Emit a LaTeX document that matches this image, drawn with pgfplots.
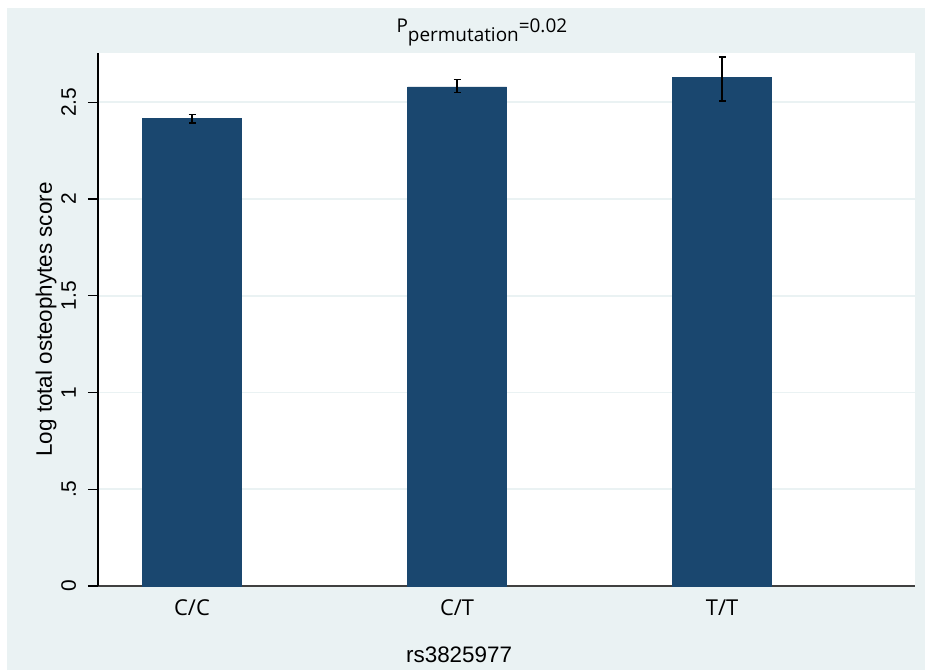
\documentclass[border=0pt]{standalone}
\usepackage{pgfplots}
\pgfplotsset{compat=1.18}
\usepackage{fontspec}
\setmainfont{Liberation Sans}
\newfontfamily\opensans{Open Sans}
\definecolor{stbg}{HTML}{EAF2F3}
\definecolor{stnavy}{HTML}{1A476F}
\begin{document}
\begin{tikzpicture}
\fill[white] (-98bp,-84bp) rectangle (827bp,586bp);
\fill[stbg] (-91bp,-84bp) rectangle (827bp,578bp);
\begin{axis}[
  scale only axis, width=817bp, height=533bp,
  anchor=south west, at={(0,0)},
  xmin=0.6453, xmax=3.728, ymin=0, ymax=2.7545,
  axis background/.style={fill=white},
  axis x line*=bottom, axis y line*=left,
  x axis line style={-, draw=black!75, line width=1.6bp},
  y axis line style={-, draw=black, line width=1.2bp},
  xtick={1,2,3}, xticklabels={C/C,C/T,T/T},
  ytick={0,0.5,1,1.5,2,2.5}, yticklabels={0,.5,1,1.5,2,2.5},
  x tick style={draw=none},
  y tick style={draw=black, line width=1.2bp},
  tick align=outside, major tick length=10bp,
  ymajorgrids, grid style={stbg, line width=1.6bp},
  /pgf/number format/assume math mode=true,
  xticklabel style={font=\opensans\fontsize{22}{26}\selectfont},
  yticklabel style={font=\fontsize{21}{25}\selectfont, rotate=90, anchor=base, yshift=12bp},
  xlabel={rs3825977}, ylabel={Log total osteophytes score},
  label style={font=\fontsize{22.5}{27}\selectfont},
  xlabel style={at={(rel axis cs:0.442,0)}, anchor=base, yshift=-76bp},
  ylabel style={at={(rel axis cs:0,0.5)}, anchor=base, yshift=46bp},
]
\addplot[ybar, bar width=0.3736, fill=stnavy, draw=stnavy,
  error bars/.cd, y dir=both, y explicit,
  error bar style={black, line width=1.3bp},
  error mark options={rotate=90, black, mark size=3.5bp, line width=1.3bp}]
  coordinates {
    (1,2.416) += (0,0.021) -= (0,0.023)
    (2,2.580) += (0,0.039) -= (0,0.031)
    (3,2.629) += (0,0.105) -= (0,0.123)
  };
\end{axis}
\node[anchor=base west, font=\opensans\fontsize{19}{23}\selectfont] at (295bp,553bp) {P\raisebox{-9bp}{permutation}=0.02};
\pgfresetboundingbox
\path[use as bounding box] (-98bp,-84bp) rectangle (827bp,586bp);
\end{tikzpicture}
\end{document}
